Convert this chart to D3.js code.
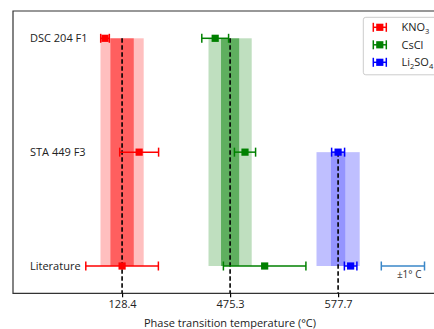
<!DOCTYPE html>
<html><head><meta charset="utf-8">
<script src="https://cdn.jsdelivr.net/npm/d3@7"></script>
<style>body{margin:0;background:#fff}svg{display:block;font-family:"Open Sans",sans-serif}</style>
</head><body><svg id="c" width="434" height="329"></svg>
<script>
// ---- data ----
const materials = ["KNO3", "CsCl", "Li2SO4"];
const centers = [128.4, 475.3, 577.7];
const tickLabels = ["128.4", "475.3", "577.7"];
const rows = ["DSC 204 F1", "STA 449 F3", "Literature"];
const dscValues = [127.61, 474.61, null];
const dscErrors = [0.20, 0.62, null];
const staValues = [129.19, 475.99, 577.70];
const staErrors = [0.90, 0.49, 0.30];
const litValues = [128.40, 476.90, 578.28];
const litErrors = [1.68, 1.91, 0.29];
const wideBand = [1.0, 1.0, 1.0];
const narrowBand = [0.54, 0.42, 0.33];
const bandTopRow = [0, 0, 1];
const groupSpacing = 5;      // °C between groups on the shifted axis
const scaleBarHalf = 1;      // ±1 °C

// ---- layout ----
const colors = ["#ff0000", "#008000", "#0000ff"];
const darkAlpha = [0.5, 0.5, 0.22];
const svg = d3.select("#c");
const mLeft = 13, mTop = 11, mBottom = 293.3, mRight = 450;
const x = d3.scaleLinear().domain([-5.05, 15.18]).range([mLeft, mRight]);
const y = d3.scaleLinear().domain([0, 2]).range([38.3, 266]);
const ux = (i, T) => x(i * groupSpacing + (T - centers[i]));

// bands
materials.forEach((m, i) => {
  const y0 = y(bandTopRow[i]), y1 = y(2);
  svg.append("rect").attr("x", ux(i, centers[i] - wideBand[i])).attr("y", y0)
    .attr("width", ux(i, centers[i] + wideBand[i]) - ux(i, centers[i] - wideBand[i]))
    .attr("height", y1 - y0).attr("fill", colors[i]).attr("fill-opacity", 0.25);
  svg.append("rect").attr("x", ux(i, centers[i] - narrowBand[i])).attr("y", y0)
    .attr("width", ux(i, centers[i] + narrowBand[i]) - ux(i, centers[i] - narrowBand[i]))
    .attr("height", y1 - y0).attr("fill", colors[i]).attr("fill-opacity", darkAlpha[i]);
});

// dashed lines
materials.forEach((m, i) => {
  svg.append("line").attr("x1", ux(i, centers[i])).attr("x2", ux(i, centers[i]))
    .attr("y1", y(bandTopRow[i])).attr("y2", mBottom)
    .attr("stroke", "#000").attr("stroke-width", 1.6).attr("stroke-dasharray", "4.5,2.5");
});

// frame
svg.append("path").attr("d", `M${mRight},${mTop}H${mLeft}V${mBottom}H${mRight}`)
  .attr("fill", "none").attr("stroke", "#333").attr("stroke-width", 1.2);

// x axis ticks
const tickPos = centers.map((c, i) => i * groupSpacing);
const axis = d3.axisBottom(x).tickValues(tickPos).tickFormat((d, k) => tickLabels[k])
  .tickSize(4).tickPadding(3);
const ga = svg.append("g").attr("transform", `translate(0,${mBottom})`).call(axis);
ga.select(".domain").remove();
ga.selectAll("line").attr("stroke", "#000").attr("stroke-width", 1.2);
ga.selectAll("text").attr("font-family", "Open Sans").attr("font-size", 11).attr("fill", "#222");

svg.append("text").attr("x", 230).attr("y", 327).attr("text-anchor", "middle")
  .attr("font-size", 11).attr("fill", "#222").text("Phase transition temperature (°C)");

// row labels
rows.forEach((r, j) => {
  svg.append("text").attr("x", 30).attr("y", y(j)).attr("dy", "0.35em")
    .attr("font-size", 11).attr("fill", "#222").text(r);
});

// error bars
function errbar(g, cx, cy, xl, xr, color) {
  g.append("line").attr("x1", xl).attr("x2", xr).attr("y1", cy).attr("y2", cy)
    .attr("stroke", color).attr("stroke-width", 1.5);
  [xl, xr].forEach(xx => g.append("line").attr("x1", xx).attr("x2", xx)
    .attr("y1", cy - 4.5).attr("y2", cy + 4.5).attr("stroke", color).attr("stroke-width", 1.5));
  g.append("rect").attr("x", cx - 3.6).attr("y", cy - 3.6).attr("width", 7.2).attr("height", 7.2)
    .attr("fill", color);
}
const series = [[dscValues, dscErrors], [staValues, staErrors], [litValues, litErrors]];
materials.forEach((m, i) => {
  series.forEach(([vals, errs], j) => {
    if (vals[i] == null) return;
    errbar(svg, ux(i, vals[i]), y(j), ux(i, vals[i] - errs[i]), ux(i, vals[i] + errs[i]), colors[i]);
  });
});

// scale bar
const sbc = 13, sbColor = "#3a87c8";
const sbl = x(sbc - scaleBarHalf), sbr = x(sbc + scaleBarHalf), sby = y(2);
svg.append("line").attr("x1", sbl).attr("x2", sbr).attr("y1", sby).attr("y2", sby)
  .attr("stroke", sbColor).attr("stroke-width", 1.5);
[sbl, sbr].forEach(xx => svg.append("line").attr("x1", xx).attr("x2", xx)
  .attr("y1", sby - 4.5).attr("y2", sby + 4.5).attr("stroke", sbColor).attr("stroke-width", 1.5));
svg.append("text").attr("x", sbr - 3).attr("y", sby + 12).attr("text-anchor", "end")
  .attr("font-size", 10).attr("fill", "#333").text("±1° C");

// legend
const lg = svg.append("g");
lg.append("rect").attr("x", 363.3).attr("y", 17.3).attr("width", 90).attr("height", 57.5)
  .attr("rx", 2.5).attr("fill", "#fff").attr("fill-opacity", 0.8).attr("stroke", "#ccc");
const legendLabels = [["KNO", "3"], ["CsCl"], ["Li", "2", "SO", "4"]];
materials.forEach((m, i) => {
  const ly = 27.3 + i * 17.5;
  errbar(lg, 379.8, ly, 373.3, 386.3, colors[i]);
  const t = lg.append("text").attr("x", 401.5).attr("y", ly).attr("dy", "0.35em")
    .attr("font-size", 11).attr("fill", "#222");
  const parts = legendLabels[i];
  parts.forEach((p, k) => {
    if (k % 2 === 0) {
      const s = t.append("tspan").text(p);
      if (k > 0) s.attr("dy", "-2.5");
    } else t.append("tspan").attr("font-size", 7.5).attr("dy", "2.5").text(p);
  });
});
</script></body></html>
